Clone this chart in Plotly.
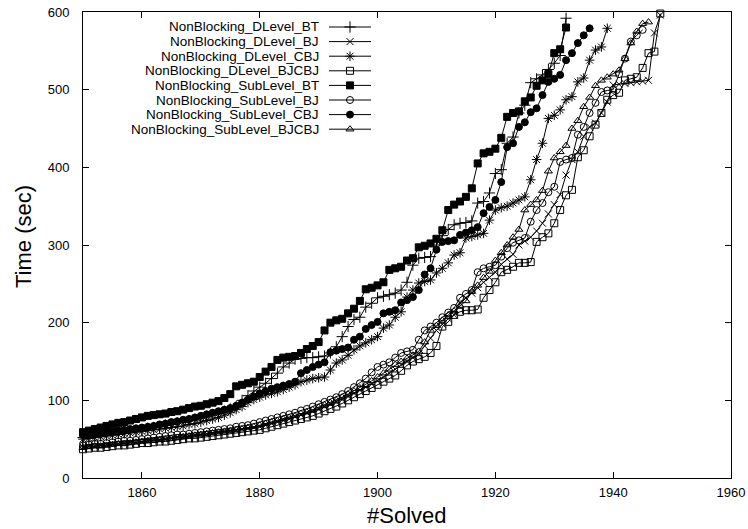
import plotly.graph_objects as go

# ---------------- data ----------------
x_start = 1850

dlevel_bt = [52, 53, 54, 55, 56, 57, 58, 59, 60, 61, 62, 64, 65, 66, 68, 69, 71, 72, 74, 75,
             77, 79, 81, 83, 86, 89, 92, 100, 106, 112, 117, 122, 128, 135, 143, 148, 153, 154, 155, 155,
             156, 157, 161, 169, 182, 195, 204, 207, 220, 225, 232, 234, 236, 238, 242, 252, 274, 283, 284, 285,
             300, 312, 320, 326, 328, 329, 331, 354, 356, 367, 392, 397, 431, 439, 470, 480, 509, 514, 519, 526,
             534, 544, 592]

dlevel_bj = [40, 41, 41, 42, 43, 44, 44, 45, 46, 46, 47, 48, 49, 49, 50, 51, 52, 53, 54, 55,
             56, 57, 58, 59, 60, 61, 62, 63, 64, 65, 66, 68, 70, 72, 74, 76, 79, 81, 84, 86,
             89, 92, 95, 98, 101, 105, 109, 113, 117, 121, 125, 130, 135, 140, 146, 150, 155, 160, 170, 180,
             190, 198, 205, 210, 225, 232, 238, 245, 252, 258, 265, 275, 282, 288, 300, 305, 310, 318, 328, 340,
             352, 365, 390, 410, 420, 440, 452, 457, 470, 484, 506, 507, 508, 509, 510, 511, 512, 573, 596]

dlevel_cbj = [50, 51, 52, 53, 54, 55, 56, 57, 58, 59, 60, 61, 62, 63, 64, 65, 66, 67, 69, 70,
              72, 74, 76, 78, 81, 84, 88, 92, 97, 101, 104, 107, 109, 111, 114, 117, 120, 124, 126, 128,
              129, 130, 139, 148, 152, 158, 165, 170, 174, 178, 182, 193, 197, 207, 214, 233, 242, 251, 253, 255,
              264, 270, 277, 287, 290, 309, 311, 313, 315, 332, 345, 348, 350, 354, 358, 362, 384, 410, 431, 463,
              467, 474, 487, 491, 510, 515, 538, 551, 555, 579]

dlevel_bjcbj = [37, 38, 39, 39, 40, 41, 42, 42, 43, 44, 45, 45, 46, 47, 47, 48, 49, 50, 51, 51,
                52, 53, 54, 55, 56, 57, 58, 59, 60, 61, 62, 64, 66, 68, 70, 72, 74, 76, 78, 80,
                83, 86, 89, 92, 96, 100, 104, 108, 112, 116, 120, 124, 128, 132, 138, 145, 150, 153, 156, 161,
                170, 195, 201, 210, 214, 216, 216, 217, 232, 242, 252, 265, 268, 272, 277, 277, 278, 304, 310, 315,
                328, 345, 364, 371, 413, 422, 440, 455, 470, 487, 493, 496, 512, 514, 516, 528, 547, 549, 598]

sublevel_bt = [59, 61, 63, 65, 67, 69, 71, 72, 74, 76, 78, 80, 81, 82, 83, 85, 86, 88, 90, 92,
               93, 95, 97, 99, 103, 108, 118, 120, 122, 124, 130, 137, 143, 152, 155, 156, 157, 161, 166, 170,
               175, 190, 200, 203, 205, 212, 218, 228, 243, 245, 248, 252, 268, 270, 272, 280, 283, 297, 299, 302,
               308, 319, 345, 352, 356, 362, 373, 405, 418, 420, 424, 438, 465, 470, 472, 485, 490, 505, 512, 520,
               547, 552, 580]

sublevel_bj = [42, 43, 44, 44, 45, 46, 47, 48, 48, 49, 50, 51, 52, 53, 54, 55, 56, 56, 57, 58,
               59, 60, 61, 62, 63, 64, 66, 67, 68, 70, 72, 74, 76, 78, 80, 82, 84, 87, 89, 92,
               95, 98, 101, 104, 108, 112, 117, 122, 128, 136, 143, 146, 149, 155, 161, 163, 165, 178, 190, 195,
               200, 207, 213, 219, 232, 237, 242, 265, 270, 272, 274, 285, 296, 303, 306, 309, 330, 345, 354, 368,
               375, 407, 410, 412, 442, 452, 470, 483, 497, 499, 500, 520, 540, 562, 570, 577]

sublevel_cbj = [55, 56, 57, 58, 59, 60, 61, 62, 63, 64, 65, 66, 67, 69, 70, 72, 73, 75, 76, 78,
                80, 82, 84, 86, 88, 90, 93, 97, 101, 105, 109, 112, 115, 117, 119, 121, 124, 135, 139, 143,
                146, 149, 162, 164, 166, 168, 178, 182, 192, 197, 201, 212, 214, 216, 226, 229, 233, 242, 262, 270,
                294, 304, 305, 306, 313, 316, 319, 323, 341, 349, 358, 381, 426, 431, 452, 458, 471, 476, 493, 510,
                514, 519, 538, 547, 560, 570, 579]

sublevel_bjcbj = [39, 40, 41, 41, 42, 43, 44, 44, 45, 46, 47, 48, 48, 49, 50, 51, 52, 53, 54, 55,
                  56, 57, 58, 59, 60, 61, 62, 63, 65, 66, 68, 70, 72, 74, 76, 78, 80, 83, 85, 88,
                  91, 94, 97, 100, 104, 108, 112, 116, 120, 125, 130, 135, 140, 146, 150, 154, 158, 163, 175, 190,
                  196, 203, 210, 215, 222, 228, 240, 248, 258, 266, 280, 290, 300, 310, 320, 345, 352, 358, 370, 395,
                  412, 420, 428, 450, 460, 478, 490, 505, 512, 516, 520, 525, 540, 560, 575, 585, 587]

series_names = ["NonBlocking_DLevel_BT", "NonBlocking_DLevel_BJ", "NonBlocking_DLevel_CBJ",
                "NonBlocking_DLevel_BJCBJ", "NonBlocking_SubLevel_BT", "NonBlocking_SubLevel_BJ",
                "NonBlocking_SubLevel_CBJ", "NonBlocking_SubLevel_BJCBJ"]
series_values = [dlevel_bt, dlevel_bj, dlevel_cbj, dlevel_bjcbj,
                 sublevel_bt, sublevel_bj, sublevel_cbj, sublevel_bjcbj]

x_ticks = [1860, 1880, 1900, 1920, 1940, 1960]
y_ticks = [0, 100, 200, 300, 400, 500, 600]

# ---------------- styles ----------------
symbols = ["cross-thin-open", "x-thin-open", "asterisk-open", "square-open",
           "square", "circle-open", "circle", "triangle-up-open"]
sizes = [8, 7, 8, 7, 7, 7, 7, 7]
FONT = "Liberation Sans, Arial, Helvetica, sans-serif"

W, H = 748, 529
L, R, T, B = 83, 731, 12, 478   # plot area in page pixels


def px(xp):
    return (xp - L) / (R - L)


def py(yp):
    return (B - yp) / (B - T)


fig = go.Figure()
for name, vals, sym, sz in zip(series_names, series_values, symbols, sizes):
    xs = list(range(x_start, x_start + len(vals)))
    fig.add_trace(go.Scatter(
        x=xs, y=vals, mode="lines+markers", name=name, showlegend=False,
        line=dict(color="black", width=1),
        marker=dict(symbol=sym, size=sz, color="black",
                    line=dict(color="black", width=1)),
        cliponaxis=False,
    ))

# ---------- custom legend (gnuplot style: text left, sample right) ----------
# overlay axes in page-pixel units: x 83..731, y 478..12
row0, row_step = 27, 14.6
for i, (name, sym, sz) in enumerate(zip(series_names, symbols, sizes)):
    yy = row0 + i * row_step
    fig.add_trace(go.Scatter(
        x=[329, 371], y=[yy, yy], mode="lines", xaxis="x2", yaxis="y2",
        showlegend=False, hoverinfo="skip",
        line=dict(color="black", width=1)))
    fig.add_trace(go.Scatter(
        x=[350], y=[yy], mode="markers", xaxis="x2", yaxis="y2",
        showlegend=False, hoverinfo="skip",
        marker=dict(symbol=sym, size=sz, color="black", line=dict(color="black", width=1))))
    fig.add_annotation(x=px(320), y=py(yy), xref="paper", yref="paper",
                       text=name, showarrow=False, borderpad=0,
                       xanchor="right", yanchor="middle",
                       font=dict(family=FONT, size=13.5, color="black"))

# axis titles
fig.add_annotation(x=px(407), y=py(515), xref="paper", yref="paper", text="#Solved",
                   showarrow=False, xanchor="center", yanchor="middle",
                   font=dict(family=FONT, size=22, color="black"))
fig.add_annotation(x=px(23), y=py(237), xref="paper", yref="paper",
                   text="Time (sec)", showarrow=False, textangle=-90,
                   xanchor="center", yanchor="middle",
                   font=dict(family=FONT, size=22, color="black"))

fig.update_layout(
    width=W, height=H,
    margin=dict(l=L, r=W - R, t=T, b=H - B, autoexpand=False),
    paper_bgcolor="white", plot_bgcolor="white",
    font=dict(family=FONT, size=12, color="black"),
    showlegend=False,
    xaxis=dict(range=[1850, 1960], tickvals=x_ticks, ticks="inside", ticklen=6,
               tickcolor="black", showline=True, linecolor="black", linewidth=1,
               mirror="ticks", showgrid=False, zeroline=False, automargin=False,
               tickfont=dict(family=FONT, size=13, color="black"), ticklabelstandoff=2),
    yaxis=dict(range=[0, 600], tickvals=y_ticks, ticks="inside", ticklen=6,
               tickcolor="black", showline=True, linecolor="black", linewidth=1,
               mirror="ticks", showgrid=False, zeroline=False, automargin=False,
               tickfont=dict(family=FONT, size=13, color="black"), ticklabelstandoff=10),
    xaxis2=dict(range=[L, R], overlaying="x", visible=False, fixedrange=True, automargin=False),
    yaxis2=dict(range=[B, T], overlaying="y", visible=False, fixedrange=True, automargin=False),
)

# remove the default 8px page margin so figure pixels equal page pixels
fig.write_html("out.html", config={"displayModeBar": False},
               post_script="document.body.style.margin='0px';document.body.style.overflow='hidden';")
